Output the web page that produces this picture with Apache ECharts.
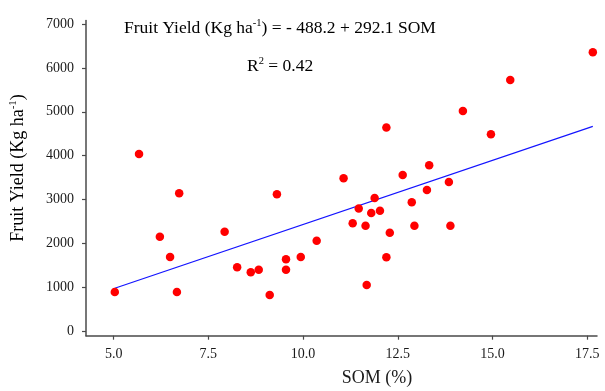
<!DOCTYPE html>
<html>
<head>
<meta charset="utf-8">
<script src="https://cdn.jsdelivr.net/npm/echarts@6/dist/echarts.min.js"></script>
<style>
  html, body { margin: 0; padding: 0; background: #fff; }
  #chart { width: 605px; height: 391px; }
</style>
</head>
<body>
<div id="chart"></div>
<script>
// Soil organic matter (%) for each orchard sample
const somValues = [
  5.03, 5.67, 6.22, 6.49, 6.67, 6.73, 7.93, 8.26, 8.62, 8.83,
  9.12, 9.31, 9.55, 9.55, 9.94, 10.36, 11.07, 11.31, 11.47, 11.65,
  11.68, 11.80, 11.89, 12.03, 12.20, 12.20, 12.29, 12.63, 12.87, 12.94,
  13.27, 13.33, 13.85, 13.89, 14.22, 14.96, 15.47, 17.65
];
// Fruit yield (kg/ha) for the same samples
const yieldValues = [
  895, 4040, 2155, 1690, 895, 3145, 2270, 1460, 1345, 1405,
  825, 3120, 1640, 1405, 1690, 2065, 3485, 2460, 2795, 2405,
  1055, 2695, 3035, 2745, 4645, 1685, 2245, 3560, 2940, 2405,
  3220, 3780, 3400, 2405, 5020, 4490, 5725, 6355
];
// Fitted linear model
const intercept = -488.2;
const slope = 292.1;
const rSquared = 0.42;

// Axis ticks
const xTicks = [5.0, 7.5, 10.0, 12.5, 15.0, 17.5];
const yTicks = [0, 1000, 2000, 3000, 4000, 5000, 6000, 7000];

const xMin = Math.min.apply(null, somValues);
const xMax = Math.max.apply(null, somValues);
const fitLine = [
  [xMin, intercept + slope * xMin],
  [xMax, intercept + slope * xMax]
];

const serif = '"Liberation Serif", "Times New Roman", serif';
const axisColor = '#4a4a4a';
const textColor = '#1a1a1a';

const eqNorm = { fontFamily: serif, fontSize: 17.5, color: textColor, lineHeight: 20 };
const eqSup = { fontFamily: serif, fontSize: 10.5, color: textColor, verticalAlign: 'top', lineHeight: 20 };
const nmNorm = { fontFamily: serif, fontSize: 18, color: textColor, lineHeight: 20 };
const nmSup = { fontFamily: serif, fontSize: 11, color: textColor, verticalAlign: 'top', lineHeight: 20 };

const chart = echarts.init(document.getElementById('chart'), null, { renderer: 'canvas' });

chart.setOption({
  animation: false,
  backgroundColor: '#fff',
  grid: { left: 86, right: 8, top: 20.5, bottom: 55.3, containLabel: false },
  xAxis: {
    type: 'value',
    min: 4.27,
    max: 17.76,
    splitLine: { show: false },
    axisLine: { show: true, onZero: false, lineStyle: { color: axisColor, width: 1.5 } },
    axisTick: { show: true, length: 4, customValues: xTicks, lineStyle: { color: axisColor, width: 1.2 } },
    axisLabel: {
      customValues: xTicks,
      margin: 12,
      fontFamily: serif,
      fontSize: 14,
      color: textColor,
      formatter: v => v.toFixed(1)
    }
  },
  yAxis: {
    type: 'value',
    min: -100,
    max: 7080,
    splitLine: { show: false },
    axisLine: { show: true, onZero: false, lineStyle: { color: axisColor, width: 1.5 } },
    axisTick: { show: true, length: 4, customValues: yTicks, lineStyle: { color: axisColor, width: 1.2 } },
    axisLabel: {
      customValues: yTicks,
      margin: 12,
      fontFamily: serif,
      fontSize: 14,
      color: textColor,
      formatter: v => String(v)
    }
  },
  series: [
    {
      type: 'line',
      data: fitLine,
      symbol: 'none',
      lineStyle: { color: '#1414ff', width: 1.2 },
      z: 2
    },
    {
      type: 'scatter',
      data: somValues.map((v, i) => [v, yieldValues[i]]),
      symbol: 'circle',
      symbolSize: 8.5,
      itemStyle: { color: '#ff0000', opacity: 1 },
      z: 3
    }
  ],
  graphic: [
    {
      type: 'text',
      left: 124,
      top: 18,
      style: {
        text: '{n|Fruit Yield (Kg ha}{s|-1}{n|) = - ' + Math.abs(intercept).toFixed(1) +
              ' + ' + slope.toFixed(1) + ' SOM}',
        rich: { n: eqNorm, s: eqSup }
      }
    },
    {
      type: 'text',
      left: 247,
      top: 56,
      style: {
        text: '{n|R}{s|2}{n| = ' + rSquared.toFixed(2) + '}',
        rich: { n: eqNorm, s: eqSup }
      }
    },
    {
      type: 'text',
      x: 377,
      y: 378,
      style: {
        text: 'SOM (%)',
        fontFamily: serif,
        fontSize: 18,
        fill: textColor,
        align: 'center',
        verticalAlign: 'middle'
      }
    },
    {
      type: 'text',
      x: 18,
      y: 168,
      rotation: Math.PI / 2,
      style: {
        text: '{n|Fruit Yield (Kg ha}{s|-1}{n|)}',
        rich: { n: nmNorm, s: nmSup },
        align: 'center',
        verticalAlign: 'middle'
      }
    }
  ]
});
</script>
</body>
</html>
